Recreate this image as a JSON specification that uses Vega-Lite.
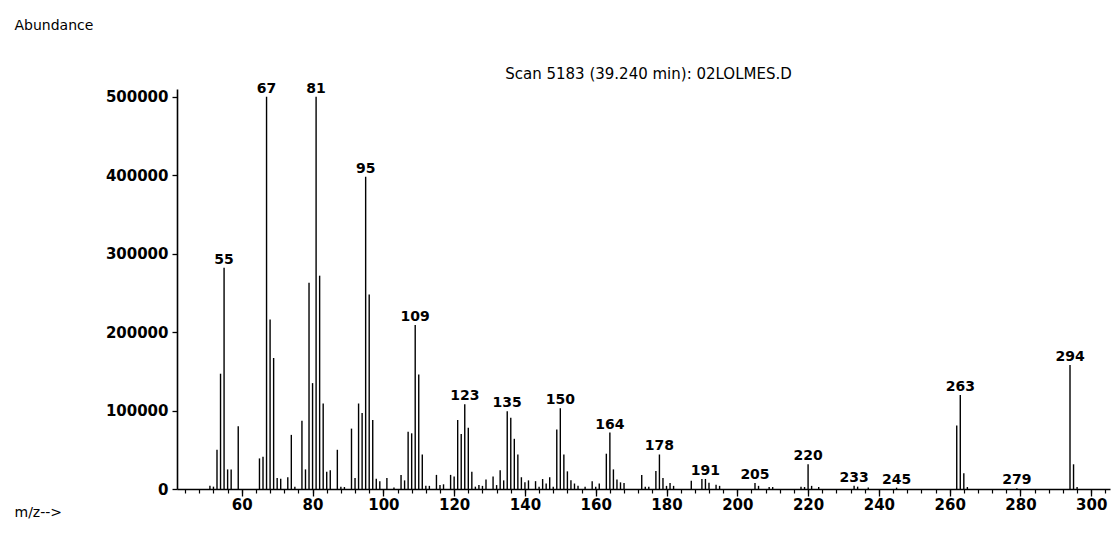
{
 "$schema": "https://vega.github.io/schema/vega-lite/v6.json",
 "width": 933,
 "height": 400,
 "autosize": {"type": "none"},
 "padding": {"left": 177, "top": 89, "right": 7, "bottom": 49},
 "background": "white",
 "title": {"text": "Scan 5183 (39.240 min): 02LOLMES.D", "anchor": "middle", "offset": 9, "dx": 5, "dy": 73, "fontSize": 15, "font": "DejaVu Sans", "fontWeight": "normal", "color": "black"},
 "config": {"view": {"stroke": null}, "font": "DejaVu Sans"},
 "data": {"values": [
  {"mz": 51, "ab": 4000}, {"mz": 52, "ab": 3000}, {"mz": 53, "ab": 50000}, {"mz": 54, "ab": 147000},
  {"mz": 55, "ab": 282000, "label": "55"}, {"mz": 56, "ab": 25000}, {"mz": 57, "ab": 25000}, {"mz": 59, "ab": 80000},
  {"mz": 65, "ab": 39000}, {"mz": 66, "ab": 41000}, {"mz": 67, "ab": 500000, "label": "67"}, {"mz": 68, "ab": 216000},
  {"mz": 69, "ab": 167000}, {"mz": 70, "ab": 14000}, {"mz": 71, "ab": 13000}, {"mz": 73, "ab": 15000},
  {"mz": 74, "ab": 69000}, {"mz": 75, "ab": 3000}, {"mz": 77, "ab": 87000}, {"mz": 78, "ab": 25000},
  {"mz": 79, "ab": 263000}, {"mz": 80, "ab": 135000}, {"mz": 81, "ab": 500000, "label": "81"}, {"mz": 82, "ab": 272000},
  {"mz": 83, "ab": 109000}, {"mz": 84, "ab": 22000}, {"mz": 85, "ab": 24000}, {"mz": 87, "ab": 50000},
  {"mz": 88, "ab": 3000}, {"mz": 89, "ab": 2500}, {"mz": 91, "ab": 77000}, {"mz": 92, "ab": 14000},
  {"mz": 93, "ab": 109000}, {"mz": 94, "ab": 97000}, {"mz": 95, "ab": 398000, "label": "95"}, {"mz": 96, "ab": 248000},
  {"mz": 97, "ab": 88000}, {"mz": 98, "ab": 13000}, {"mz": 99, "ab": 10000}, {"mz": 101, "ab": 14000},
  {"mz": 103, "ab": 2000}, {"mz": 105, "ab": 18000}, {"mz": 106, "ab": 11000}, {"mz": 107, "ab": 73000},
  {"mz": 108, "ab": 71000}, {"mz": 109, "ab": 209000, "label": "109"}, {"mz": 110, "ab": 146000}, {"mz": 111, "ab": 44000},
  {"mz": 112, "ab": 4000}, {"mz": 113, "ab": 4000}, {"mz": 115, "ab": 18000}, {"mz": 116, "ab": 5000},
  {"mz": 117, "ab": 6000}, {"mz": 119, "ab": 18000}, {"mz": 120, "ab": 16000}, {"mz": 121, "ab": 88000},
  {"mz": 122, "ab": 70000}, {"mz": 123, "ab": 108000, "label": "123"}, {"mz": 124, "ab": 78000}, {"mz": 125, "ab": 22000},
  {"mz": 126, "ab": 3000}, {"mz": 127, "ab": 5000}, {"mz": 128, "ab": 4000}, {"mz": 129, "ab": 12000},
  {"mz": 131, "ab": 16000}, {"mz": 132, "ab": 5000}, {"mz": 133, "ab": 24000}, {"mz": 134, "ab": 11000},
  {"mz": 135, "ab": 99000, "label": "135"}, {"mz": 136, "ab": 91000}, {"mz": 137, "ab": 64000}, {"mz": 138, "ab": 44000},
  {"mz": 139, "ab": 15000}, {"mz": 140, "ab": 8500}, {"mz": 141, "ab": 11000}, {"mz": 143, "ab": 10000},
  {"mz": 144, "ab": 3000}, {"mz": 145, "ab": 12700}, {"mz": 146, "ab": 7000}, {"mz": 147, "ab": 15000},
  {"mz": 148, "ab": 3000}, {"mz": 149, "ab": 76000}, {"mz": 150, "ab": 103000, "label": "150"}, {"mz": 151, "ab": 44000},
  {"mz": 152, "ab": 22500}, {"mz": 153, "ab": 11000}, {"mz": 154, "ab": 7000}, {"mz": 155, "ab": 4000},
  {"mz": 157, "ab": 3000}, {"mz": 159, "ab": 10000}, {"mz": 160, "ab": 3000}, {"mz": 161, "ab": 7000},
  {"mz": 163, "ab": 45000}, {"mz": 164, "ab": 72000, "label": "164"}, {"mz": 165, "ab": 25000}, {"mz": 166, "ab": 12000},
  {"mz": 167, "ab": 8500}, {"mz": 168, "ab": 7700}, {"mz": 173, "ab": 18000}, {"mz": 174, "ab": 3000},
  {"mz": 175, "ab": 3000}, {"mz": 177, "ab": 23000}, {"mz": 178, "ab": 44000, "label": "178"}, {"mz": 179, "ab": 14000},
  {"mz": 180, "ab": 4000}, {"mz": 181, "ab": 7700}, {"mz": 182, "ab": 4000}, {"mz": 187, "ab": 10600},
  {"mz": 190, "ab": 12800}, {"mz": 191, "ab": 12800, "label": "191"}, {"mz": 192, "ab": 8000}, {"mz": 194, "ab": 5500},
  {"mz": 195, "ab": 4000}, {"mz": 205, "ab": 7700, "label": "205"}, {"mz": 206, "ab": 4000}, {"mz": 209, "ab": 2500},
  {"mz": 210, "ab": 2500}, {"mz": 218, "ab": 3000}, {"mz": 219, "ab": 2500}, {"mz": 220, "ab": 31500, "label": "220"},
  {"mz": 221, "ab": 4000}, {"mz": 223, "ab": 2500}, {"mz": 233, "ab": 4300, "label": "233"}, {"mz": 234, "ab": 3000},
  {"mz": 237, "ab": 2000}, {"mz": 245, "ab": 1700, "label": "245"}, {"mz": 262, "ab": 81000}, {"mz": 263, "ab": 120000, "label": "263"},
  {"mz": 264, "ab": 20000}, {"mz": 265, "ab": 2500}, {"mz": 279, "ab": 800, "label": "279"}, {"mz": 294, "ab": 158000, "label": "294"},
  {"mz": 295, "ab": 31500}, {"mz": 296, "ab": 2500}
 ]},
 "resolve": {"axis": {"x": "independent"}},
 "layer": [
  {
   "mark": {"type": "rule", "color": "black", "strokeWidth": 1.4},
   "encoding": {
    "x": {"field": "mz", "type": "quantitative",
     "scale": {"domain": [41.7, 305.3], "nice": false, "zero": false},
     "axis": {"orient": "bottom", "values": [60, 80, 100, 120, 140, 160, 180, 200, 220, 240, 260, 280, 300], "format": "d",
      "grid": false, "tickSize": 7, "tickColor": "black", "tickWidth": 1.3, "domainColor": "black", "domainWidth": 1.6,
      "labelColor": "black", "labelFontSize": 15, "labelFontWeight": "bold", "labelPadding": 1,
      "title": "m/z-->", "titleX": -163, "titleY": 23, "titleAlign": "left", "titleAnchor": null, "titleBaseline": "middle",
      "titleFontSize": 14, "titleFontWeight": "normal", "titleColor": "black"}},
    "y": {"field": "ab", "type": "quantitative",
     "scale": {"domain": [0, 510000], "nice": false},
     "axis": {"values": [0, 50000, 100000, 150000, 200000, 250000, 300000, 350000, 400000, 450000, 500000], "format": "d",
      "grid": false, "tickSize": 5, "tickColor": "black", "tickWidth": 1.3, "domainColor": "black", "domainWidth": 1.6,
      "labelColor": "black", "labelFontSize": 15, "labelFontWeight": "bold", "labelPadding": 4,
      "title": "Abundance", "titleAngle": 0, "titleX": -163, "titleY": -64, "titleAlign": "left", "titleAnchor": null, "titleBaseline": "middle",
      "titleFontSize": 14, "titleFontWeight": "normal", "titleColor": "black"}},
    "y2": {"datum": 0}
   }
  },
  {
   "transform": [{"filter": "datum.label != null"}],
   "mark": {"type": "text", "color": "black", "fontSize": 14, "fontWeight": "bold", "baseline": "alphabetic", "dy": -4, "align": "center"},
   "encoding": {
    "x": {"field": "mz", "type": "quantitative",
     "axis": {"orient": "bottom", "values": [44, 48, 52, 56, 60, 64, 68, 72, 76, 80, 84, 88, 92, 96, 100, 104, 108, 112, 116, 120, 124, 128, 132, 136, 140, 144, 148, 152, 156, 160, 164, 168, 172, 176, 180, 184, 188, 192, 196, 200, 204, 208, 212, 216, 220, 224, 228, 232, 236, 240, 244, 248, 252, 256, 260, 264, 268, 272, 276, 280, 284, 288, 292, 296, 300, 304],
      "labels": false, "domain": false, "grid": false, "tickSize": 4, "tickColor": "black", "tickWidth": 1.2, "title": null}},
    "y": {"field": "ab", "type": "quantitative"},
    "text": {"field": "label"}
   }
  }
 ]
}
